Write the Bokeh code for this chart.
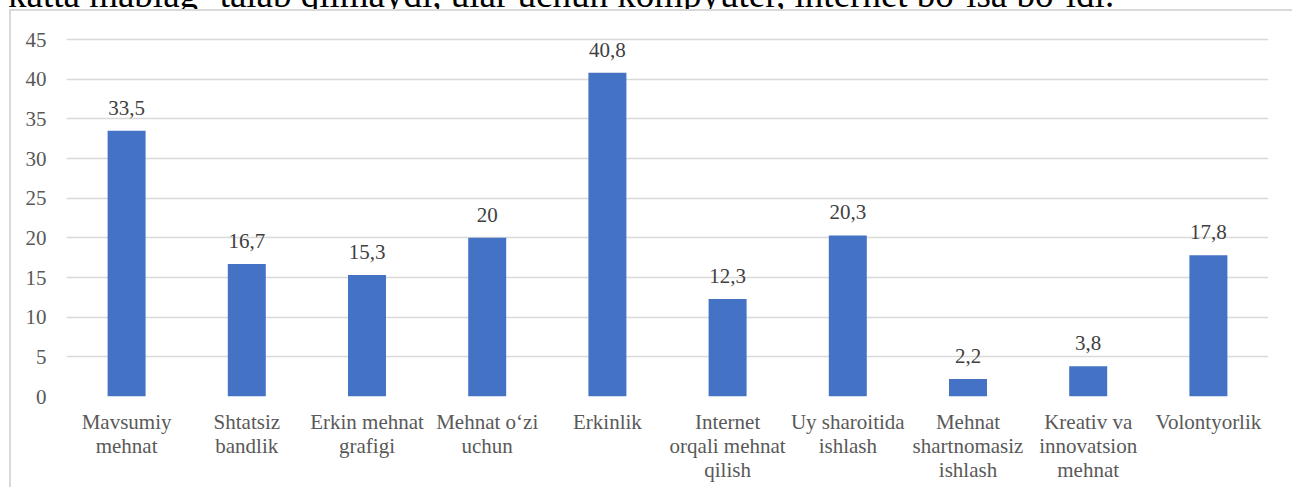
from bokeh.plotting import figure
from bokeh.layouts import column
from bokeh.models import (FixedTicker, Range1d, ColumnDataSource, Div,
                          CategoricalAxis, CustomJSTickFormatter)
from bokeh.embed import file_html
from bokeh.resources import INLINE
from bokeh.core.properties import value

categories = ["Mavsumiy mehnat", "Shtatsiz bandlik", "Erkin mehnat grafigi", "Mehnat o‘zi uchun",
              "Erkinlik", "Internet orqali mehnat qilish", "Uy sharoitida ishlash",
              "Mehnat shartnomasiz ishlash", "Kreativ va innovatsion mehnat", "Volontyorlik"]
tick_lines_1 = ["Mavsumiy", "Shtatsiz", "Erkin mehnat", "Mehnat o‘zi", "Erkinlik", "Internet",
                "Uy sharoitida", "Mehnat", "Kreativ va", "Volontyorlik"]
tick_lines_2 = ["mehnat", "bandlik", "grafigi", "uchun", "", "orqali mehnat", "ishlash",
                "shartnomasiz", "innovatsion", ""]
tick_lines_3 = ["", "", "", "", "", "qilish", "", "ishlash", "mehnat", ""]
values = [33.5, 16.7, 15.3, 20, 40.8, 12.3, 20.3, 2.2, 3.8, 17.8]
value_labels = ["33,5", "16,7", "15,3", "20", "40,8", "12,3", "20,3", "2,2", "3,8", "17,8"]
y_ticks = [0, 5, 10, 15, 20, 25, 30, 35, 40, 45]
top_text = "katta mablag‘ talab qilmaydi, ular uchun kompyuter, internet bo‘lsa bo‘ldi."

FONT = "Liberation Serif"
FS = "21px"
PAGE_W, PAGE_H = 1295, 490
OX, OY = 11, 11            # canvas origin on the page (after 9px margin + 2px border)
W, H = PAGE_W - OX - 1, PAGE_H - OY - 1
frame_top, frame_bottom = 23 - OY, 396 - OY
frame_left, frame_right = 66 - OX, 1268 - OX
px_per_unit = (396 - 39) / 45.0

# partially visible line of running text above the chart
div = Div(text=('<div style="position:relative; top:-26px; left:8px; font-family:\'Liberation Serif\';'
                ' font-size:37px; line-height:1.15; white-space:nowrap; color:#000;">'
                + top_text + '</div>'),
          width=PAGE_W, height=9, margin=(0, 0, 0, 0), styles={"overflow": "hidden"})

p = figure(width=W, height=H, x_range=categories,
           y_range=Range1d(0, (frame_bottom - frame_top) / px_per_unit),
           output_backend="svg", toolbar_location=None,
           min_border_left=frame_left, min_border_right=W - frame_right,
           min_border_top=frame_top, min_border_bottom=H - frame_bottom)
p.margin = (0, 0, 0, 9)
p.styles = {"border-top": "2px solid #d9d9d9", "border-left": "2px solid #d9d9d9"}
p.outline_line_color = None
p.background_fill_color = "white"
p.border_fill_color = "white"

src = ColumnDataSource(dict(x=categories, top=values, lab=value_labels))
p.vbar(x="x", top="top", width=0.316, source=src, fill_color="#4472C4", line_color=None)
p.text(x="x", y="top", text="lab", source=src, text_align="center", text_baseline="alphabetic",
       y_offset=-23, text_font=value(FONT), text_font_size=FS, text_color="#404040")

p.xgrid.grid_line_color = None
p.ygrid.grid_line_color = "#d9d9d9"
p.ygrid.grid_line_width = 1.5
p.yaxis.ticker = FixedTicker(ticks=y_ticks)


def style_axis(ax, standoff):
    ax.axis_line_color = None
    ax.major_tick_line_color = None
    ax.minor_tick_line_color = None
    ax.major_tick_out = 0
    ax.major_tick_in = 0
    ax.major_label_text_font = FONT
    ax.major_label_text_font_size = FS
    ax.major_label_text_color = "#595959"
    ax.major_label_standoff = standoff


def line_formatter(lines):
    return CustomJSTickFormatter(args=dict(cats=categories, lines=lines),
                                 code="const i = cats.indexOf(tick); return i >= 0 ? lines[i] : '';")


style_axis(p.yaxis[0], 20)
style_axis(p.xaxis[0], 13)
p.xaxis[0].formatter = line_formatter(tick_lines_1)

for lines in (tick_lines_2, tick_lines_3):
    ax = CategoricalAxis()
    style_axis(ax, -3)
    ax.formatter = line_formatter(lines)
    p.add_layout(ax, "below")

layout = column(div, p, spacing=0)
open("out.html", "w").write(file_html(layout, INLINE))
